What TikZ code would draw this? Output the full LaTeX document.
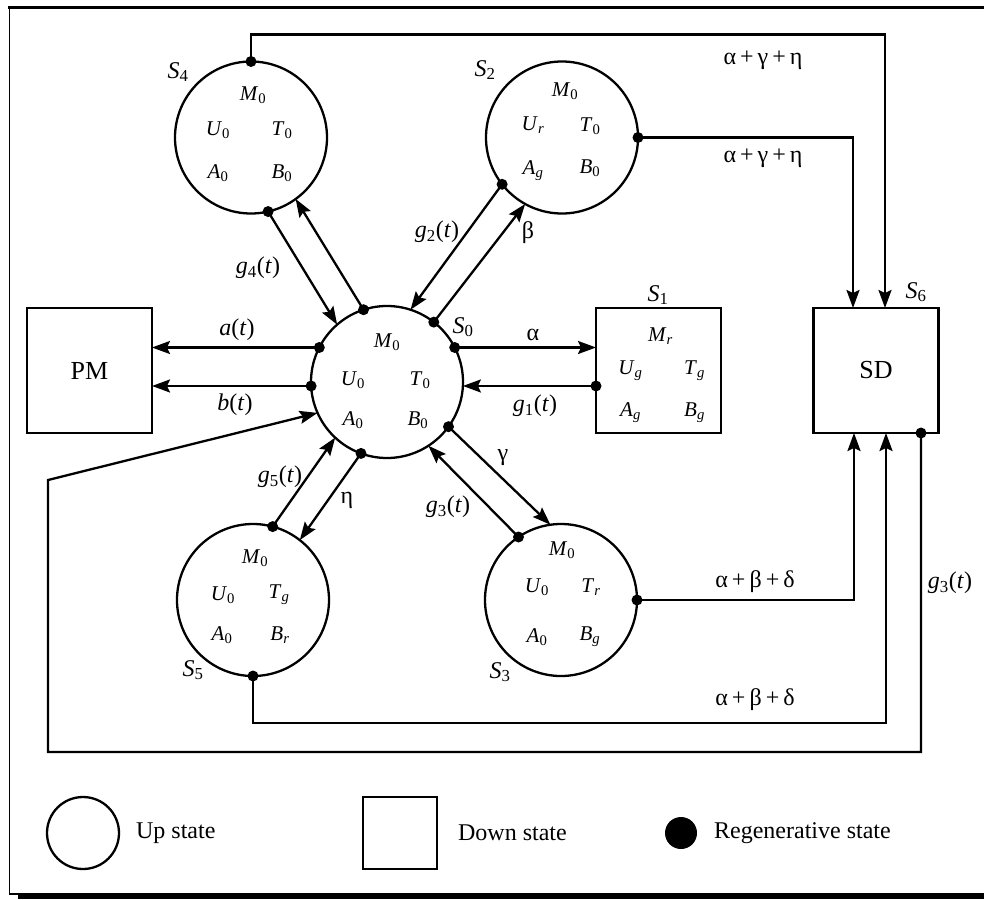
\documentclass[tikz,border=0pt]{standalone}
\usepackage{fontspec}
\setmainfont{Liberation Serif}
\usetikzlibrary{arrows.meta,calc}
\newcommand{\vv}[2]{\textit{#1}\textsubscript{#2}}
\newcommand{\gfn}[1]{\textit{g}\textsubscript{#1}(\textit{t})}
\begin{document}
\begin{tikzpicture}[x=1pt,y=-1pt,line width=2.3pt,
  upstate/.style={circle,draw,minimum size=152pt,inner sep=0pt,outer sep=0pt},
  downstate/.style={rectangle,draw,minimum width=125pt,minimum height=125pt,inner sep=0pt,outer sep=0pt,font=\fontsize{26}{28}\selectfont},
  regen/.style={circle,fill,inner sep=0pt,minimum size=11pt},
  intext/.style={font=\fontsize{21}{23}\selectfont,inner sep=0pt},
  lbl/.style={font=\fontsize{24}{26}\selectfont,inner sep=0pt},
  slbl/.style={font=\fontsize{24}{26}\selectfont,inner sep=0pt},
  legtext/.style={font=\fontsize{24}{26}\selectfont,inner sep=0pt,anchor=west},
  arr/.style={-{Stealth[length=18pt,width=13pt,inset=3pt]}},
  ]
\useasboundingbox (0,0) rectangle (984,899);
% frame
\draw[line width=3pt] (8,8) -- (984,8);
\draw[line width=1.5pt] (9.5,8) -- (9.5,894) -- (984,894);
\fill (18,893) rectangle (984,899);

% states
\node[upstate] (s0) at (387,382) {};
\node[upstate] (s4) at (251,137.5) {};
\node[upstate] (s2) at (562,137.5) {};
\node[upstate] (s5) at (253,600) {};
\node[upstate] (s3) at (561,600) {};
\node[downstate] (s1) at (658.5,370.5) {};
\node[downstate] (sd) at (876,370.5) {SD};
\node[downstate] (pm) at (89.5,370.5) {PM};

% texts inside states
\node[intext] (s0m) at ($(s0)+(0,-40)$) {\vv{M}{0}};
\node[intext] (s0u) at ($(s0)+(-34,-2)$) {\vv{U}{0}};
\node[intext] (s0t) at ($(s0)+(33,-2)$) {\vv{T}{0}};
\node[intext] (s0a) at ($(s0)+(-34,38)$) {\vv{A}{0}};
\node[intext] (s0b) at ($(s0)+(31,38)$) {\vv{B}{0}};

\node[intext] (s4m) at ($(s4)+(2,-42)$) {\vv{M}{0}};
\node[intext] (s4u) at ($(s4)+(-33,-7)$) {\vv{U}{0}};
\node[intext] (s4t) at ($(s4)+(31,-7)$) {\vv{T}{0}};
\node[intext] (s4a) at ($(s4)+(-33,36)$) {\vv{A}{0}};
\node[intext] (s4b) at ($(s4)+(31,36)$) {\vv{B}{0}};

\node[intext] (s2m) at ($(s2)+(3,-46)$) {\vv{M}{0}};
\node[intext] (s2u) at ($(s2)+(-29,-12)$) {\vv{U}{\textit{r}}};
\node[intext] (s2t) at ($(s2)+(28,-11)$) {\vv{T}{0}};
\node[intext] (s2a) at ($(s2)+(-29,33)$) {\vv{A}{\textit{g}}};
\node[intext] (s2b) at ($(s2)+(28,31)$) {\vv{B}{0}};

\node[intext] (s5m) at ($(s5)+(2,-42)$) {\vv{M}{0}};
\node[intext] (s5u) at ($(s5)+(-30,-5)$) {\vv{U}{0}};
\node[intext] (s5t) at ($(s5)+(26,-5)$) {\vv{T}{\textit{g}}};
\node[intext] (s5a) at ($(s5)+(-31,35)$) {\vv{A}{0}};
\node[intext] (s5b) at ($(s5)+(27,35)$) {\vv{B}{\textit{r}}};

\node[intext] (s3m) at ($(s3)+(1,-50)$) {\vv{M}{0}};
\node[intext] (s3u) at ($(s3)+(-24,-13)$) {\vv{U}{0}};
\node[intext] (s3t) at ($(s3)+(30,-13)$) {\vv{T}{\textit{r}}};
\node[intext] (s3a) at ($(s3)+(-24,37)$) {\vv{A}{0}};
\node[intext] (s3b) at ($(s3)+(29,37)$) {\vv{B}{\textit{g}}};

\node[intext] (s1m) at ($(s1)+(2,-34)$) {\vv{M}{\textit{r}}};
\node[intext] (s1u) at ($(s1)+(-28,0)$) {\vv{U}{\textit{g}}};
\node[intext] (s1t) at ($(s1)+(36,0)$) {\vv{T}{\textit{g}}};
\node[intext] (s1a) at ($(s1)+(-28,42)$) {\vv{A}{\textit{g}}};
\node[intext] (s1b) at ($(s1)+(36,42)$) {\vv{B}{\textit{g}}};

% state labels
\node[slbl] (ls4) at (178,72) {\vv{S}{4}};
\node[slbl] (ls2) at (485,70) {\vv{S}{2}};
\node[slbl] (ls0) at (463,327) {\vv{S}{0}};
\node[slbl] (ls1) at (658,295) {\vv{S}{1}};
\node[slbl] (ls6) at (916,292) {\vv{S}{6}};
\node[slbl] (ls5) at (193,670) {\vv{S}{5}};
\node[slbl] (ls3) at (500,672) {\vv{S}{3}};

% return coordinates
\coordinate (retbl) at (48,752);
\coordinate (rettl) at (48,480);

% connectors
\draw[arr] (s0.153) -- (s0.153 -| pm.east);
\draw[arr] (s0.183) -- (s0.183 -| pm.east);
\draw[arr] (s0.27) -- (s0.27 -| s1.west);
\draw[arr] (s0.357 -| s1.west) -- (s0.357);
\draw[arr] (s4.283) -- (s0.131);
\draw[arr] (s0.108) -- (s4.306);
\draw[arr] (s2.218) -- (s0.72);
\draw[arr] (s0.52) -- (s2.241);
\draw[arr] (s5.75) -- (s0.227);
\draw[arr] (s0.250) -- (s5.52);
\draw[arr] (s3.124) -- (s0.303);
\draw[arr] (s0.324) -- (s3.98);
\draw[arr] (s4.north) -- ++(0,-27) -| ([xshift=9pt]sd.north);
\draw[arr] (s2.east) -| ([xshift=-23pt]sd.north);
\draw[arr] (s3.east) -| ([xshift=-22pt]sd.south);
\draw[arr] (s5.south) -- ++(0,47) -| ([xshift=10pt]sd.south);
\draw[arr] ([xshift=45pt]sd.south) |- (retbl) -- (rettl) -- (s0.204);

% regenerative dots
\node[regen] (d0a) at (s0.108) {};
\node[regen] (d0b) at (s0.52) {};
\node[regen] (d0c) at (s0.27) {};
\node[regen] (d0d) at (s0.153) {};
\node[regen] (d0e) at (s0.183) {};
\node[regen] (d0f) at (s0.250) {};
\node[regen] (d0g) at (s0.324) {};
\node[regen] (d4a) at (s4.north) {};
\node[regen] (d4b) at (s4.283) {};
\node[regen] (d2a) at (s2.east) {};
\node[regen] (d2b) at (s2.218) {};
\node[regen] (d5a) at (s5.75) {};
\node[regen] (d5b) at (s5.south) {};
\node[regen] (d3a) at (s3.124) {};
\node[regen] (d3b) at (s3.east) {};
\node[regen] (d1) at (s0.357 -| s1.west) {};
\node[regen] (d6) at ([xshift=45pt]sd.south) {};

% transition labels
\node[lbl] (la) at (237,330) {\textit{a}(\textit{t})};
\node[lbl] (lb) at (235,405) {\textit{b}(\textit{t})};
\node[lbl] (lalpha) at (533,335) {α};
\node[lbl] (lg1) at (535,406) {\gfn{1}};
\node[lbl] (lg4) at (258,268) {\gfn{4}};
\node[lbl] (lg2) at (437,232) {\gfn{2}};
\node[lbl] (lbeta) at (528,233) {β};
\node[lbl] (lg5) at (280,477) {\gfn{5}};
\node[lbl] (leta) at (347,500) {η};
\node[lbl] (lg3) at (448,507) {\gfn{3}};
\node[lbl] (lgamma) at (503,458) {γ};
\node[lbl] (lagh1) at (763,60) {α\,+\,γ\,+\,η};
\node[lbl] (lagh2) at (763,158) {α\,+\,γ\,+\,η};
\node[lbl] (labd1) at (755,582) {α\,+\,β\,+\,δ};
\node[lbl] (labd2) at (755,700) {α\,+\,β\,+\,δ};
\node[lbl] (lg3r) at (950,583) {\gfn{3}};

% legend
\node[circle,draw,minimum size=72pt,inner sep=0pt] (legup) at (83,833) {};
\node[legtext] (legupt) at (135,833) {Up state};
\node[rectangle,draw,minimum width=74pt,minimum height=72pt,inner sep=0pt] (legdown) at (400,833) {};
\node[legtext] (legdownt) at (457,833) {Down state};
\node[circle,fill,minimum size=32pt,inner sep=0pt] (legreg) at (681,833) {};
\node[legtext] (legregt) at (713,833) {Regenerative state};
\end{tikzpicture}
\end{document}
